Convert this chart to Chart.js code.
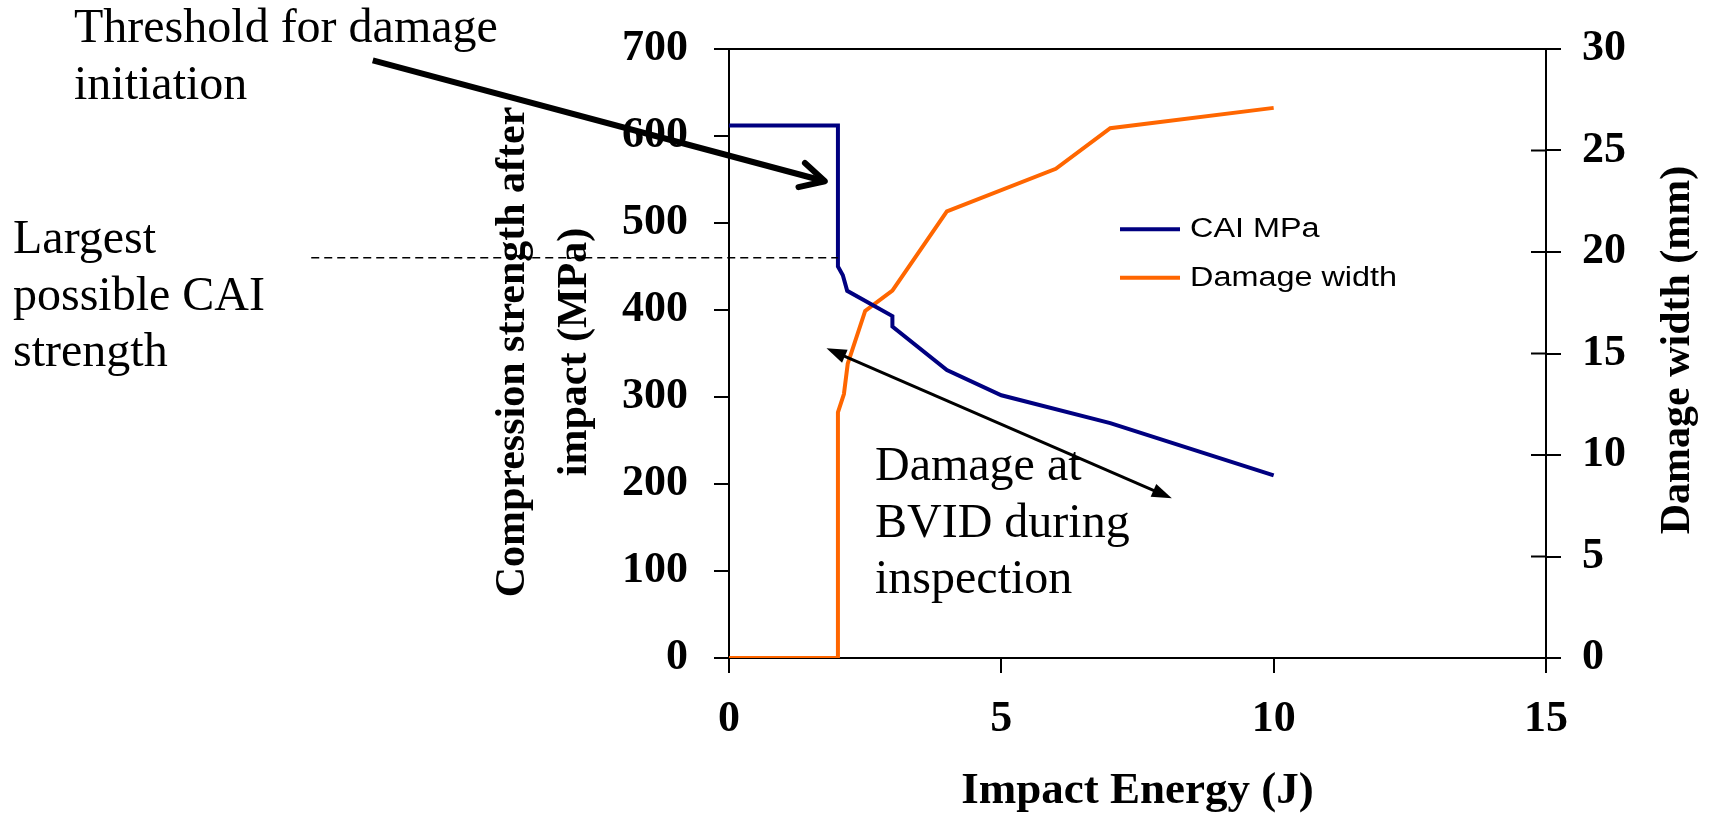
<!DOCTYPE html>
<html>
<head>
<meta charset="utf-8">
<title>CAI strength and damage width vs impact energy</title>
<script src="https://cdn.jsdelivr.net/npm/chart.js@4.4.1/dist/chart.umd.min.js"></script>
<style>
  html, body { margin: 0; padding: 0; background: #fff; }
  #wrap { width: 1711px; height: 816px; position: relative; }
</style>
</head>
<body>
<div id="wrap"><canvas id="caiChart"></canvas></div>
<script>
// CAI strength (MPa) against impact energy (J)
const caiEnergy = [0, 2, 2, 2.09, 2.17, 3, 3, 4, 5, 7, 10];
const caiStrength = [612, 612, 450, 440, 422, 393, 381, 331, 302, 270, 210];

// Damage width (mm) against impact energy (J)
const widthEnergy = [0, 2, 2, 2.11, 2.18, 2.5, 3, 4, 6, 7, 10];
const damageWidth = [0, 0, 12.1, 13, 14.5, 17.1, 18.1, 22, 24.1, 26.1, 27.1];

const energyTicks = [0, 5, 10, 15];
const strengthTicks = [0, 100, 200, 300, 400, 500, 600, 700];
const widthTicks = [0, 5, 10, 15, 20, 25, 30];

const seriesLabels = ['CAI MPa', 'Damage width'];
const seriesColors = ['#000080', '#FF6600'];

const CAI_LIMIT = 460; // largest possible CAI strength, MPa

const SERIF = '"Liberation Serif", "Times New Roman", serif';
const SANS = '"Liberation Sans", Arial, sans-serif';

const toPoints = (xs, ys) => xs.map((x, i) => ({ x: x, y: ys[i] }));
const fixTicks = (values) => (scale) => { scale.ticks = values.map((v) => ({ value: v })); };

function drawLines(ctx, lines, x, y0, step, font, sx) {
  ctx.save();
  ctx.font = font;
  ctx.fillStyle = '#000';
  ctx.textAlign = 'left';
  ctx.textBaseline = 'alphabetic';
  lines.forEach((t, i) => {
    ctx.save();
    ctx.translate(x, y0 + i * step);
    ctx.scale(sx || 1, 1);
    ctx.fillText(t, 0, 0);
    ctx.restore();
  });
  ctx.restore();
}

function drawVertical(ctx, text, cx, cy, font) {
  ctx.save();
  ctx.translate(cx, cy);
  ctx.rotate(-Math.PI / 2);
  ctx.font = font;
  ctx.fillStyle = '#000';
  ctx.textAlign = 'center';
  ctx.textBaseline = 'middle';
  ctx.fillText(text, 0, 0);
  ctx.restore();
}

function filledHead(ctx, x, y, ang, len, half) {
  ctx.beginPath();
  ctx.moveTo(x, y);
  ctx.lineTo(x - len * Math.cos(ang) + half * Math.sin(ang), y - len * Math.sin(ang) - half * Math.cos(ang));
  ctx.lineTo(x - len * Math.cos(ang) - half * Math.sin(ang), y - len * Math.sin(ang) + half * Math.cos(ang));
  ctx.closePath();
  ctx.fill();
}

const annotations = {
  id: 'annotations',
  afterDraw(chart) {
    const { ctx, chartArea: a, scales: { x, y, y2 } } = chart;
    ctx.save();
    ctx.strokeStyle = '#000';
    ctx.fillStyle = '#000';

    // closing line along the top of the plot
    ctx.lineWidth = 2;
    ctx.beginPath();
    ctx.moveTo(a.left, a.top);
    ctx.lineTo(a.right, a.top);
    ctx.stroke();

    // right axis ticks cross the axis line
    ctx.beginPath();
    widthTicks.forEach((v) => {
      const py = y2.getPixelForValue(v);
      ctx.moveTo(a.right - 15, py);
      ctx.lineTo(a.right, py);
    });
    ctx.stroke();

    // dashed marker for the largest possible CAI strength
    ctx.lineWidth = 1.5;
    ctx.setLineDash([8, 5]);
    const ly = y.getPixelForValue(CAI_LIMIT);
    ctx.beginPath();
    ctx.moveTo(x.getPixelForValue(-7.67), ly);
    ctx.lineTo(x.getPixelForValue(2), ly);
    ctx.stroke();
    ctx.setLineDash([]);

    // threshold arrow with open head
    const t1x = x.getPixelForValue(-6.54), t1y = y.getPixelForValue(687);
    const t2x = x.getPixelForValue(1.76), t2y = y.getPixelForValue(548);
    const ta = Math.atan2(t2y - t1y, t2x - t1x);
    ctx.lineWidth = 6;
    ctx.lineCap = 'butt';
    ctx.beginPath();
    ctx.moveTo(t1x, t1y);
    ctx.lineTo(t2x, t2y);
    ctx.stroke();
    ctx.lineCap = 'round';
    ctx.lineJoin = 'round';
    ctx.beginPath();
    ctx.moveTo(t2x - 27 * Math.cos(ta - 0.48), t2y - 27 * Math.sin(ta - 0.48));
    ctx.lineTo(t2x, t2y);
    ctx.lineTo(t2x - 27 * Math.cos(ta + 0.48), t2y - 27 * Math.sin(ta + 0.48));
    ctx.stroke();

    // two-headed arrow for BVID damage
    const b1x = x.getPixelForValue(1.79), b1y = y.getPixelForValue(356);
    const b2x = x.getPixelForValue(8.13), b2y = y.getPixelForValue(183.5);
    const ba = Math.atan2(b2y - b1y, b2x - b1x);
    ctx.lineWidth = 3;
    ctx.lineCap = 'butt';
    ctx.beginPath();
    ctx.moveTo(b1x + 10 * Math.cos(ba), b1y + 10 * Math.sin(ba));
    ctx.lineTo(b2x - 10 * Math.cos(ba), b2y - 10 * Math.sin(ba));
    ctx.stroke();
    filledHead(ctx, b2x, b2y, ba, 20, 7);
    filledHead(ctx, b1x, b1y, ba + Math.PI, 20, 7);

    // callout text
    const note = '48px ' + SERIF;
    drawLines(ctx, ['Threshold for damage', 'initiation'], 74, 42, 56.6, note);
    drawLines(ctx, ['Largest', 'possible CAI', 'strength'], 13, 253, 56.7, note);
    drawLines(ctx, ['Damage at', 'BVID during', 'inspection'], 875, 480, 56.7, note);

    // axis titles
    const titleFont = 'bold 42px ' + SERIF;
    drawVertical(ctx, 'Compression strength after', 513, 352, titleFont);
    drawVertical(ctx, 'impact (MPa)', 575, 352, titleFont);
    drawVertical(ctx, 'Damage width (mm)', 1678, 350, titleFont);

    // legend
    chart.data.datasets.forEach((ds, i) => {
      const ry = 229.3 + i * 48.4;
      ctx.strokeStyle = ds.borderColor;
      ctx.lineWidth = 4;
      ctx.beginPath();
      ctx.moveTo(1120, ry);
      ctx.lineTo(1180, ry);
      ctx.stroke();
      drawLines(ctx, [ds.label], 1190, ry + 8, 0, '27px ' + SANS, 1.2);
    });
    ctx.restore();
  },
};

const axisGrid = { display: true, drawOnChartArea: false, drawTicks: true, tickLength: 15, color: '#000', lineWidth: 2 };
const axisBorder = { display: true, color: '#000', width: 2 };
const tickFont = { family: SERIF, size: 44, weight: 'bold', lineHeight: 1 };

new Chart(document.getElementById('caiChart'), {
  type: 'line',
  data: {
    datasets: [
      {
        label: seriesLabels[0],
        data: toPoints(caiEnergy, caiStrength),
        borderColor: seriesColors[0],
        borderWidth: 4,
        pointRadius: 0,
        tension: 0,
        yAxisID: 'y',
      },
      {
        label: seriesLabels[1],
        data: toPoints(widthEnergy, damageWidth),
        borderColor: seriesColors[1],
        borderWidth: 4,
        pointRadius: 0,
        tension: 0,
        yAxisID: 'y2',
      },
    ],
  },
  options: {
    responsive: true,
    maintainAspectRatio: false,
    animation: false,
    layout: { padding: { top: 49, left: 0, right: 0, bottom: 0 } },
    plugins: { legend: { display: false }, tooltip: { enabled: false } },
    scales: {
      x: {
        type: 'linear',
        min: 0,
        max: 15,
        afterBuildTicks: fixTicks(energyTicks),
        afterFit: (s) => { s.height = 158; },
        ticks: { color: '#000', font: tickFont, padding: 25, maxRotation: 0 },
        grid: axisGrid,
        border: axisBorder,
        title: {
          display: true,
          text: 'Impact Energy (J)',
          color: '#000',
          font: { family: SERIF, size: 45, weight: 'bold', lineHeight: 1 },
          padding: { top: 2, bottom: 2 },
        },
      },
      y: {
        position: 'left',
        min: 0,
        max: 700,
        afterBuildTicks: fixTicks(strengthTicks),
        afterFit: (s) => { s.width = 729; },
        ticks: { color: '#000', font: tickFont, padding: 26 },
        grid: axisGrid,
        border: axisBorder,
      },
      y2: {
        position: 'right',
        min: 0,
        max: 30,
        afterBuildTicks: fixTicks(widthTicks),
        afterFit: (s) => { s.width = 165; },
        ticks: { color: '#000', font: tickFont, padding: 21 },
        grid: axisGrid,
        border: axisBorder,
      },
    },
  },
  plugins: [annotations],
});
</script>
</body>
</html>
